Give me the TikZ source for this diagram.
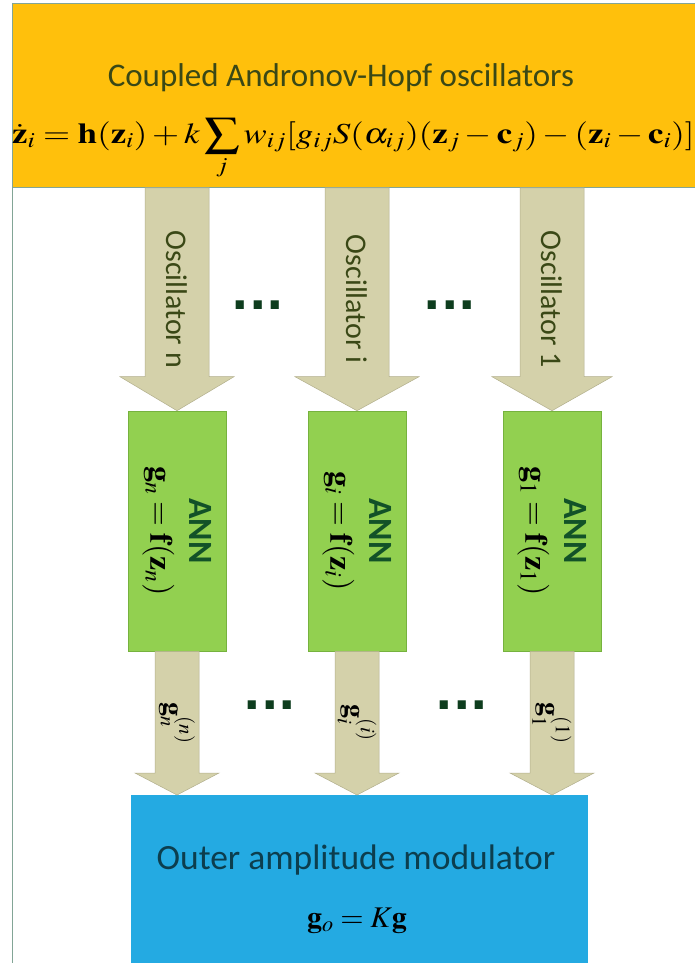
\documentclass[tikz,border=0pt]{standalone}
\usepackage{amsmath}
\usepackage{mathptmx}
\usepackage{graphicx}
\usepackage[no-math]{fontspec}
\setmainfont{Carlito}
\newfontfamily\dotsfont{DejaVu Sans}
\usetikzlibrary{calc}

\definecolor{oscyellow}{RGB}{255,192,12}
\definecolor{anngreen}{RGB}{146,208,80}
\definecolor{annline}{RGB}{118,178,62}
\definecolor{modblue}{RGB}{36,170,226}
\definecolor{arrowtan}{RGB}{212,209,170}
\definecolor{arrowline}{RGB}{178,175,140}
\definecolor{frameline}{RGB}{130,165,150}
\definecolor{olivetext}{RGB}{58,72,22}
\definecolor{greentext}{RGB}{18,82,40}
\definecolor{blutext}{RGB}{12,62,78}

% wide down arrow between two points: from, to, shaft half, head half, head length, label
\newcommand{\fatarrow}[6]{%
  \filldraw[arrowbody] ($(#1)+(-#3,0)$) -- ($(#2)+(-#3,-#5)$) -- ($(#2)+(-#4,-#5)$)
    -- (#2) -- ($(#2)+(#4,-#5)$) -- ($(#2)+(#3,-#5)$) -- ($(#1)+(#3,0)$) -- cycle;
  \node[arrowlabel] at ($(#1)!0.5!(#2)$) {#6};
}

\begin{document}
\begin{tikzpicture}[
		x=1pt, y=-1pt,
		every node/.style={inner sep=0pt},
		ybox/.style={rectangle, fill=oscyellow, draw=frameline, line width=0.8pt},
		annbox/.style={rectangle, fill=anngreen, draw=annline, line width=0.6pt,
			minimum width=98pt, minimum height=240pt},
		anntext/.style={rotate=-90, align=center, text=greentext, font=\fontsize{34}{41}\selectfont\bfseries},
		modbox/.style={rectangle, fill=modblue, minimum width=457pt, minimum height=200pt},
		arrowbody/.style={fill=arrowtan, draw=arrowline, line width=0.5pt},
		arrowlabel/.style={rotate=-90, text=olivetext},
		dots/.style={text=greentext!75!black, font=\fontsize{46}{46}\dotsfont\bfseries}
	]
  \useasboundingbox (0,0) rectangle (695,963);
  \fill[white] (0,0) rectangle (695,963);

  \node (osc) [ybox, anchor=north west, minimum width=720pt, minimum height=184pt] at (12,3) {};
  \draw[frameline, line width=0.8pt] (12,3) -- (12,980);
  \node (osc_title) [anchor=base, text=olivetext, font=\fontsize{33}{33}\selectfont] at (341,87)
    {Coupled Andronov-Hopf oscillators};
  \node (osc_eq) [anchor=base west, font=\fontsize{29}{30}\selectfont] at (12,143)
    {\scalebox{1.2}[1]{$\dot{\mathbf{z}}_i=\mathbf{h}(\mathbf{z}_i)+k\displaystyle\sum_j w_{ij}[g_{ij}S(\alpha_{ij})(\mathbf{z}_j-\mathbf{c}_j)-(\mathbf{z}_i-\mathbf{c}_i)]$}};

  \node (ann_n) [annbox] at (177,531) {};
  \node (ann_i) [annbox] at (357,531) {};
  \node (ann_1) [annbox] at (552,531) {};
  \node (ann_n_txt) [anntext] at (ann_n.center)
    {ANN\\[-2pt]{\fontsize{32}{32}\selectfont\color{black}$\mathbf{g}_n=\mathbf{f}(\mathbf{z}_n)$}};
  \node (ann_i_txt) [anntext] at (ann_i.center)
    {ANN\\[-2pt]{\fontsize{32}{32}\selectfont\color{black}$\mathbf{g}_i=\mathbf{f}(\mathbf{z}_i)$}};
  \node (ann_1_txt) [anntext] at (ann_1.center)
    {ANN\\[-2pt]{\fontsize{32}{32}\selectfont\color{black}$\mathbf{g}_1=\mathbf{f}(\mathbf{z}_1)$}};

  \node (mod) [modbox, anchor=north west] at (131,795) {};
  \node (mod_title) [anchor=base, text=blutext, font=\fontsize{35.5}{36}\selectfont] at (356,869)
    {Outer amplitude modulator};
  \node (mod_eq) [anchor=base, font=\fontsize{30}{30}\selectfont] at (357,927)
    {$\mathbf{g}_o=K\mathbf{g}$};

  \coordinate (src_n) at (ann_n.north |- osc.south);
  \coordinate (src_i) at (ann_i.north |- osc.south);
  \coordinate (src_1) at (ann_1.north |- osc.south);
  \coordinate (dst_n) at (ann_n.south |- mod.north);
  \coordinate (dst_i) at (ann_i.south |- mod.north);
  \coordinate (dst_1) at (ann_1.south |- mod.north);

  \fatarrow{src_n}{ann_n.north}{32}{57}{34}{\fontsize{30}{30}\selectfont Oscillator n}
  \fatarrow{src_i}{ann_i.north}{32}{62}{34}{\fontsize{30}{30}\selectfont Oscillator i}
  \fatarrow{src_1}{ann_1.north}{32}{60}{34}{\fontsize{30}{30}\selectfont Oscillator 1}

  \fatarrow{ann_n.south}{dst_n}{22}{42}{22}{\fontsize{28}{28}\selectfont\color{black}$\mathbf{g}_n^{(n)}$}
  \fatarrow{ann_i.south}{dst_i}{22}{42}{22}{\fontsize{28}{28}\selectfont\color{black}$\mathbf{g}_i^{(i)}$}
  \fatarrow{ann_1.south}{dst_1}{22}{42}{22}{\fontsize{28}{28}\selectfont\color{black}$\mathbf{g}_1^{(1)}$}

  \node (dots_a) [dots] at (258,305) {...};
  \node (dots_b) [dots] at (450,305) {...};
  \node (dots_c) [dots] at (270,705) {...};
  \node (dots_d) [dots] at (462,705) {...};
\end{tikzpicture}
\end{document}
